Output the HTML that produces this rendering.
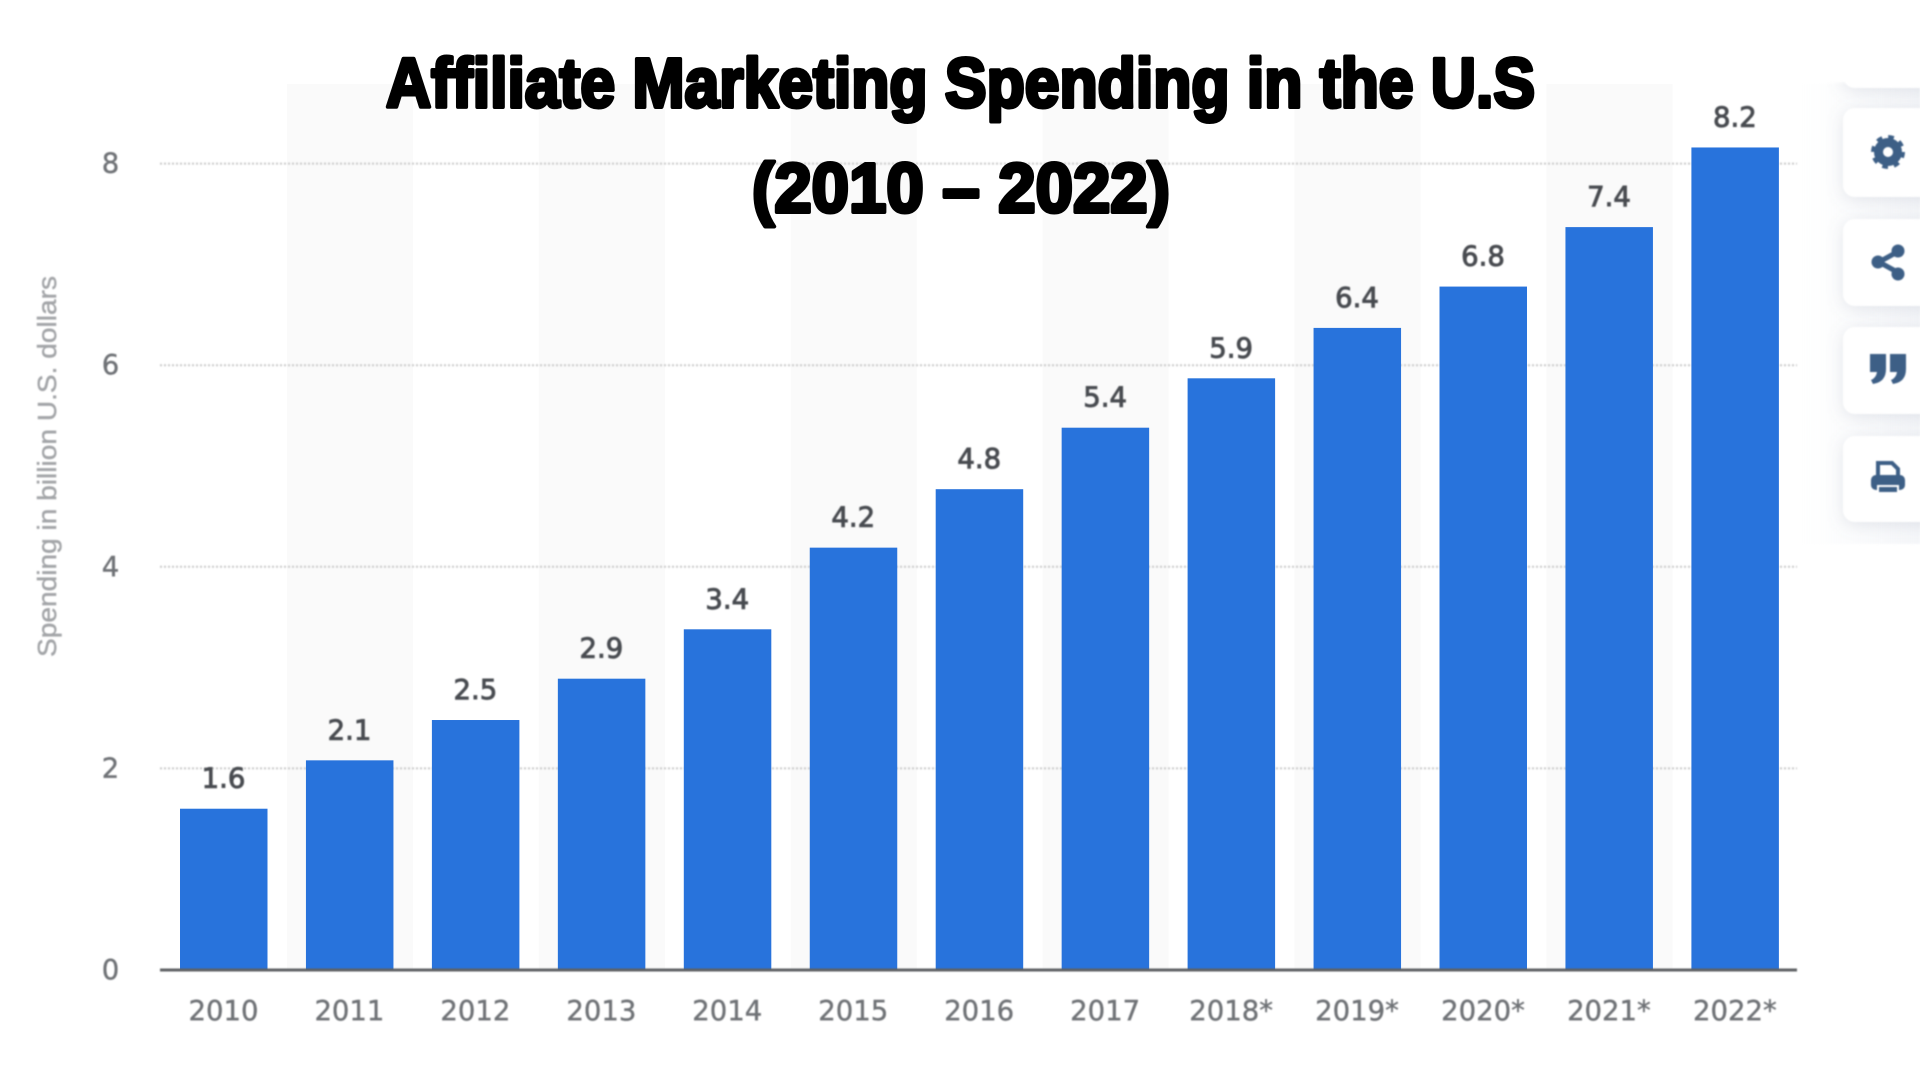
<!DOCTYPE html>
<html lang="en">
<head>
<meta charset="utf-8">
<title>Affiliate Marketing Spending in the U.S (2010 – 2022)</title>
<style>
  html, body { margin: 0; padding: 0; background: #fff; }
  body { width: 1920px; height: 1080px; overflow: hidden; }
  svg { display: block; }
  .soft { filter: blur(0.9px); }
  .tick { font-family: "DejaVu Sans", "Liberation Sans", sans-serif; font-size: 27.5px; fill: #6f7276; stroke: #6f7276; stroke-width: 0.4px; }
  .val { font-family: "DejaVu Sans", "Liberation Sans", sans-serif; font-size: 27.5px; fill: #484b50; stroke: #484b50; stroke-width: 0.9px; }
  .ttl { font-family: "Liberation Sans", sans-serif; font-weight: 700; font-size: 70px; fill: #000; stroke: #000; stroke-width: 4px; stroke-linejoin: round; paint-order: stroke; }
</style>
</head>
<body>
<svg id="chart" width="1920" height="1080" viewBox="0 0 1920 1080" xmlns="http://www.w3.org/2000/svg">
  <defs>
    <filter id="cardShadow" x="-40%" y="-40%" width="180%" height="180%">
      <feDropShadow dx="0" dy="3" stdDeviation="8" flood-color="#7f8ba0" flood-opacity="0.2"/>
    </filter>
    <linearGradient id="panelFade" x1="0" y1="0" x2="1" y2="0">
      <stop offset="0" stop-color="#f4f6f9" stop-opacity="0"/>
      <stop offset="1" stop-color="#f1f3f7" stop-opacity="0.75"/>
    </linearGradient>
    <clipPath id="topCardClip"><rect x="1780" y="82" width="140" height="40"/></clipPath>
  </defs>
  <rect width="1920" height="1080" fill="#ffffff"/>
  <g id="bands"></g>
  <g id="grid" class="soft"></g>
  <g id="bars"></g>
  <rect x="160" y="968.5" width="1637" height="3" fill="#5f6265" class="soft"/>
  <g id="yticks" class="soft"></g>
  <g id="xticks" class="soft"></g>
  <g id="vals" class="soft"></g>
  <text class="soft" transform="translate(56,657) rotate(-90)" textLength="381" lengthAdjust="spacingAndGlyphs" font-family="'Liberation Sans', sans-serif" font-size="26" fill="#a3a5a8" stroke="#a3a5a8" stroke-width="0.4">Spending in billion U.S. dollars</text>

  <g class="soft">
    <rect x="1800" y="84" width="120" height="460" fill="url(#panelFade)"/>
    <g clip-path="url(#topCardClip)">
      <rect x="1843" y="30" width="110" height="58" rx="12" fill="#fff" filter="url(#cardShadow)"/>
    </g>
    <g>
      <rect x="1843" y="108" width="110" height="89" rx="12" fill="#fff" filter="url(#cardShadow)"/>
      <circle cx="1888" cy="152" r="9.5" fill="none" stroke="#3d5f86" stroke-width="9"/>
      <circle cx="1888" cy="152" r="14.5" fill="none" stroke="#3d5f86" stroke-width="5" stroke-dasharray="5.5 5.9"/>
    </g>
    <g>
      <rect x="1843" y="219" width="110" height="87" rx="12" fill="#fff" filter="url(#cardShadow)"/>
      <g fill="#3d5f86" stroke="#3d5f86">
        <line x1="1879" y1="262" x2="1899" y2="251" stroke-width="5"/>
        <line x1="1879" y1="262" x2="1899" y2="273" stroke-width="5"/>
        <circle cx="1878" cy="262" r="6.5" stroke="none"/>
        <circle cx="1898" cy="251" r="6.5" stroke="none"/>
        <circle cx="1898" cy="274" r="6.5" stroke="none"/>
      </g>
    </g>
    <g>
      <rect x="1843" y="327" width="110" height="87" rx="12" fill="#fff" filter="url(#cardShadow)"/>
      <g fill="#3d5f86">
        <path d="M1870 354 h16 v15 q0 13 -13 15 l-2 -4 q5 -2 6 -8 h-7 z"/>
        <path d="M1890 354 h16 v15 q0 13 -13 15 l-2 -4 q5 -2 6 -8 h-7 z"/>
      </g>
    </g>
    <g>
      <rect x="1843" y="436" width="110" height="86" rx="12" fill="#fff" filter="url(#cardShadow)"/>
      <g>
        <path d="M1878 476 v-13 h14 l6 6 v7" fill="none" stroke="#3d5f86" stroke-width="4"/>
        <rect x="1871" y="475" width="34" height="15" rx="5" fill="#3d5f86"/>
        <rect x="1878" y="486" width="20" height="7" fill="#3d5f86" stroke="#fff" stroke-width="2"/>
      </g>
    </g>
  </g>

  <text class="ttl" x="386" y="107" textLength="1149" lengthAdjust="spacingAndGlyphs">Affiliate Marketing Spending in the U.S</text>
  <text class="ttl" x="752" y="212" textLength="418" lengthAdjust="spacingAndGlyphs">(2010 – 2022)</text>
</svg>
<script>
var categories = ["2010","2011","2012","2013","2014","2015","2016","2017","2018*","2019*","2020*","2021*","2022*"];
var spending = [1.6, 2.08, 2.48, 2.89, 3.38, 4.19, 4.77, 5.38, 5.87, 6.37, 6.78, 7.37, 8.16];
var yTicks = [0, 2, 4, 6, 8];

var NS = "http://www.w3.org/2000/svg";
function yScale(v) { return 970 - v * 100.8; }
function xCenter(i) { return 224 + i * 125.95; }
function make(tag, attrs, parent, txt) {
  var el = document.createElementNS(NS, tag);
  for (var k in attrs) { el.setAttribute(k, attrs[k]); }
  if (txt !== undefined) { el.textContent = txt; }
  parent.appendChild(el);
  return el;
}
var bandsG = document.getElementById("bands");
var gridG = document.getElementById("grid");
var barsG = document.getElementById("bars");
var yG = document.getElementById("yticks");
var xG = document.getElementById("xticks");
var valsG = document.getElementById("vals");

categories.forEach(function (c, i) {
  if (i % 2 === 1) {
    var band = make("rect", { x: xCenter(i) - 63, y: 84, width: 126, height: 886, fill: "#fafafa" }, bandsG);
    
    
  }
});

yTicks.forEach(function (t) {
  if (t > 0) {
    var line = make("line", { x1: 160, x2: 1797, y1: yScale(t), y2: yScale(t), stroke: "#c9c9c9", "stroke-width": 2, "stroke-dasharray": "2 2" }, gridG);
    
    
  }
  var lab = make("text", { x: 110.5, y: yScale(t) + 9, "text-anchor": "middle", "class": "tick" }, yG, String(t));
  
  
});

spending.forEach(function (v, i) {
  var top = yScale(v);
  var bar = make("rect", { x: xCenter(i) - 44, y: top, width: 87.5, height: 970 - top, fill: "#2873dc" }, barsG);
  
  
  var val = make("text", { x: xCenter(i) - 0.5, y: top - 21, "text-anchor": "middle", "class": "val" }, valsG, v.toFixed(1));
  
  
  var cat = make("text", { x: xCenter(i) - 0.5, y: 1020, "text-anchor": "middle", "class": "tick" }, xG, categories[i]);
  
  
});
</script>
</body>
</html>
